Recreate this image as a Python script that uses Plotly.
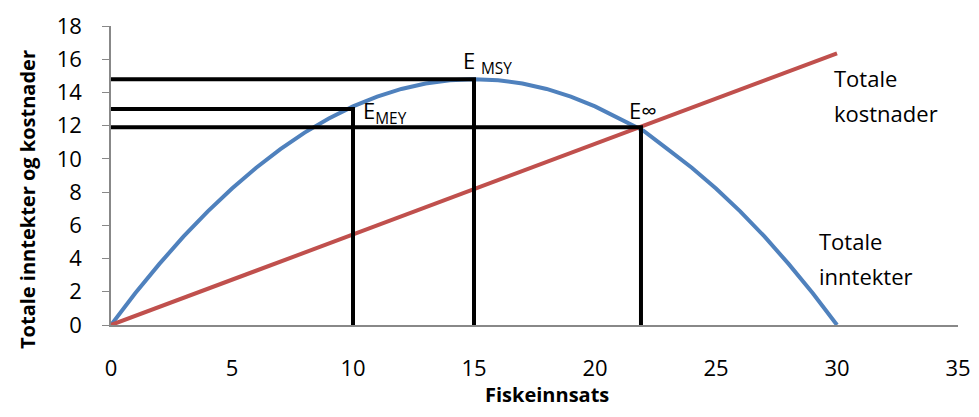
import plotly.graph_objects as go

# Data
effort = list(range(0, 31))
revenue = [0, 1.91, 3.68, 5.33, 6.84, 8.22, 9.47, 10.59, 11.58, 12.43, 13.16, 13.75, 14.21, 14.54, 14.74, 14.8,
           14.74, 14.54, 14.21, 13.75, 13.16, 12.43, 11.7, 10.59, 9.47, 8.22, 6.84, 5.33, 3.68, 1.91, 0]
cost_x = [0, 30]
cost_y = [0, 16.35]

# Reference points (effort, level)
point_names = ["E <sub>MSY</sub>", "E<sub>MEY</sub>", "E∞"]
point_x = [15, 10, 21.9]
point_y = [14.8, 13.0, 11.9]

x_ticks = [0, 5, 10, 15, 20, 25, 30, 35]
y_ticks = [0, 2, 4, 6, 8, 10, 12, 14, 16, 18]

FONT = "Open Sans"
FS = 22
fig = go.Figure()

fig.add_trace(go.Scatter(x=effort, y=revenue, mode="lines", line=dict(color="#4F81BD", width=4),
                         hoverinfo="skip", showlegend=False))
fig.add_trace(go.Scatter(x=cost_x, y=cost_y, mode="lines", line=dict(color="#C0504D", width=4),
                         hoverinfo="skip", showlegend=False))

for px, py in zip(point_x, point_y):
    fig.add_trace(go.Scatter(x=[0, px, px], y=[py, py, 0], mode="lines",
                             line=dict(color="black", width=4), hoverinfo="skip", showlegend=False))

def label(x, y, text, xshift, yshift, anchor_y="middle"):
    fig.add_annotation(x=x, y=y, text=text, showarrow=False, xanchor="left", yanchor=anchor_y,
                       xshift=xshift, yshift=yshift, font=dict(size=FS, family=FONT, color="black"))

# point labels
label(point_x[0], point_y[0], point_names[0], -13, -2, "bottom")
label(point_x[1], point_y[1], point_names[1], 8, 16, "top")
label(point_x[2], point_y[2], point_names[2], -14, 0, "bottom")

# curve labels
label(cost_x[-1], cost_y[-1], "Totale", -5, -25)
label(cost_x[-1], cost_y[-1], "kostnader", -5, -60)
label(effort[-1], revenue[-1], "Totale", -20, 84)
label(effort[-1], revenue[-1], "inntekter", -20, 49)

# axis titles
fig.add_annotation(xref="paper", yref="paper", x=(547 - 111) / 847, y=(325 - 394) / 299,
                   text="<b>Fiskeinnsats</b>", showarrow=False, xanchor="center", yanchor="middle",
                   font=dict(size=20, family=FONT, color="black"))
fig.add_annotation(xref="paper", yref="paper", x=(27 - 111) / 847, y=(325 - 200) / 299,
                   text="<b>Totale inntekter og kostnader</b>", showarrow=False, textangle=-90,
                   xanchor="center", yanchor="middle", font=dict(size=20, family=FONT, color="black"))

# page body has an 8px margin, so the figure is sized to fit inside the window
fig.update_layout(
    width=963, height=401,
    margin=dict(l=103, r=13, t=18, b=84),
    paper_bgcolor="white", plot_bgcolor="white",
    font=dict(family=FONT, size=FS, color="black"),
    xaxis=dict(range=[0, 35], tickvals=x_ticks, showgrid=False, zeroline=False, automargin=False,
               showline=True, linecolor="#888888", linewidth=1.5, ticks="",
               ticklabelstandoff=23, tickfont=dict(size=FS)),
    yaxis=dict(range=[0, 18], tickvals=y_ticks, showgrid=False, zeroline=False, automargin=False,
               showline=True, linecolor="#888888", linewidth=1.5, ticks="outside", ticklen=7,
               tickcolor="#888888", ticklabelstandoff=16, tickfont=dict(size=FS)),
)

fig.write_html("out.html")
